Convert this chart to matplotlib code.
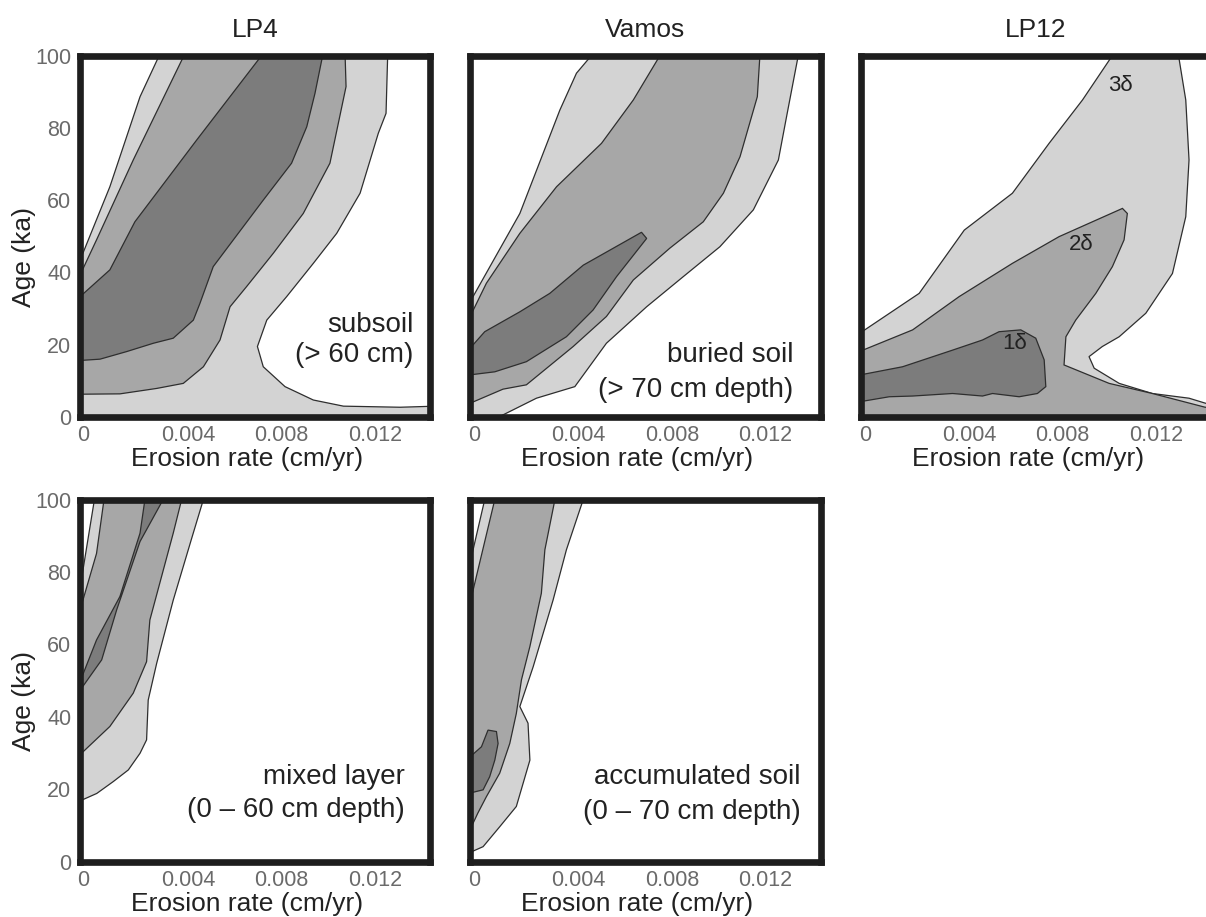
import matplotlib
matplotlib.use("Agg")
import matplotlib.pyplot as plt
from matplotlib.transforms import ScaledTranslation
import numpy as np

plt.rcParams['font.family'] = ['Liberation Sans', 'DejaVu Sans']

# confidence envelopes, (erosion rate cm/yr, age ka); 3 = outer (3 sigma), 1 = inner
lp4_3 = [(-0.0007, 42.0), (0.00066, 63.7), (0.00195, 88.6), (0.00277, 100), (0.01254, 100),
         (0.01247, 84.0), (0.01214, 78.5), (0.01136, 61.9), (0.01036, 50.8), (0.00936, 42.5),
         (0.00822, 33.3), (0.00737, 26.8), (0.00697, 19.5), (0.00722, 13.9), (0.00815, 8.4),
         (0.00936, 4.7), (0.01065, 3.0), (0.01307, 2.7), (0.0146, 3.0), (0.0146, -1), (-0.0007, -1)]
lp4_2 = [(-0.0007, 38.1), (0.00009, 49.0), (0.00166, 71.1), (0.00383, 100), (0.01072, 100),
         (0.01076, 91.4), (0.01007, 70.2), (0.00893, 56.3), (0.00765, 45.3), (0.00651, 36.1),
         (0.0058, 30.5), (0.00537, 21.3), (0.00466, 13.9), (0.0038, 9.3), (0.00266, 7.9),
         (0.00109, 6.4), (-0.0007, 6.3)]
lp4_1 = [(-0.0007, 32.8), (0.00066, 40.7), (0.00173, 54.0), (0.00437, 76.6), (0.00715, 100),
         (0.00976, 100), (0.00943, 89.5), (0.00908, 80.3), (0.00843, 70.2), (0.00722, 60.0),
         (0.00594, 49.0), (0.00508, 41.6), (0.00451, 31.4), (0.00423, 26.8), (0.00337, 21.8),
         (0.00252, 20.4), (0.00138, 18.1), (0.00024, 16.0), (-0.0007, 15.6)]

vamos_3 = [(-0.0007, 31.0), (0.0015, 56.3), (0.00321, 84.9), (0.00392, 95.1), (0.00456, 100),
           (0.0134, 100), (0.0129, 83.1), (0.01255, 71.1), (0.01148, 57.3), (0.01005, 47.1),
           (0.00848, 38.8), (0.00692, 30.5), (0.0052, 20.4), (0.00385, 8.4), (0.00221, 5.2),
           (0.00029, -1), (-0.0007, -1)]
vamos_2 = [(-0.0007, 26.8), (0.00007, 37.0), (0.0015, 50.8), (0.00307, 63.7), (0.00499, 75.7),
           (0.00635, 87.7), (0.00749, 100), (0.01176, 100), (0.01165, 88.6), (0.01091, 72.0),
           (0.0102, 61.9), (0.00934, 54.0), (0.00791, 46.7), (0.00635, 37.9), (0.0052, 27.8),
           (0.00378, 19.5), (0.00178, 8.9), (0.00078, 7.7), (-0.0007, 3.6)]
vamos_1 = [(-0.0007, 18.5), (0.0, 23.6), (0.0015, 29.1), (0.00278, 34.2), (0.00421, 42.0),
           (0.0067, 51.1), (0.00692, 49.4), (0.00563, 38.8), (0.00463, 29.6), (0.00349, 22.2),
           (0.00178, 15.3), (0.00043, 12.5), (-0.0007, 11.6)]

lp12_3 = [(-0.0007, 23.1), (0.00186, 34.2), (0.00379, 51.7), (0.00585, 61.9), (0.00742, 75.7),
          (0.00885, 87.7), (0.01013, 100), (0.01296, 100), (0.01327, 87.7), (0.01341, 71.1),
          (0.01327, 55.4), (0.0127, 39.7), (0.01156, 28.7), (0.01042, 22.2), (0.0097, 19.5),
          (0.00913, 16.7), (0.00935, 13.5), (0.01042, 9.3), (0.01184, 6.5), (0.01341, 5.2),
          (0.01412, 3.8), (0.0146, 3.4), (0.0146, -1), (-0.0007, -1)]
lp12_2 = [(-0.0007, 18.1), (0.00158, 24.1), (0.00357, 33.3), (0.00585, 42.5), (0.00785, 49.9),
          (0.01056, 57.7), (0.01077, 56.3), (0.01063, 49.0), (0.01013, 41.6), (0.00942, 34.2),
          (0.00856, 26.8), (0.00814, 22.2), (0.00806, 14.4), (0.00999, 9.3), (0.01184, 6.5),
          (0.0141, 2.7), (0.0146, 2.5), (0.0146, -1), (-0.0007, -1)]
lp12_1 = [(-0.0007, 11.6), (0.00115, 13.9), (0.00329, 18.5), (0.00457, 21.3), (0.00528, 23.6),
          (0.00621, 24.1), (0.00685, 21.8), (0.00721, 15.8), (0.00728, 8.4), (0.00692, 6.5),
          (0.00614, 5.6), (0.005, 6.5), (0.00457, 5.8), (0.00329, 6.5), (0.00158, 5.8),
          (0.00058, 5.6), (-0.0007, 4.2)]
lp12_sigma_labels = ["3δ", "2δ", "1δ"]
lp12_sigma_x = [0.01049, 0.00878, 0.00593]
lp12_sigma_y = [91.8, 47.6, 20.4]

mixed_3 = [(-0.0007, 72.2), (0.0, 100), (0.00466, 100), (0.00416, 89.3), (0.00337, 72.2),
           (0.00266, 54.7), (0.0023, 44.6), (0.00223, 33.6), (0.00195, 29.9), (0.00145, 25.3),
           (0.00081, 22.1), (0.0001, 18.8), (-0.0007, 16.5)]
mixed_2 = [(-0.0007, 67.6), (0.00009, 85.1), (0.00041, 100), (0.00373, 100), (0.00337, 90.7),
           (0.00237, 66.7), (0.00223, 55.2), (0.00166, 46.5), (0.00066, 37.3), (-0.0007, 29.0)]
mixed_1 = [(-0.0007, 48.3), (0.00009, 61.2), (0.00109, 73.2), (0.00195, 90.7), (0.00216, 100),
           (0.00294, 100), (0.00195, 88.4), (0.00095, 69.5), (0.00031, 55.7), (-0.0007, 46.5)]

accum_3 = [(-0.0007, 80.5), (0.0, 100), (0.00421, 100), (0.00349, 86.1), (0.00292, 72.2),
           (0.00207, 53.8), (0.0015, 42.8), (0.00185, 38.2), (0.00193, 28.0), (0.00135, 15.2),
           (0.00064, 9.6), (-0.00007, 4.1), (-0.0007, 2.3)]
accum_2 = [(-0.0007, 69.5), (0.00043, 100), (0.003, 100), (0.00257, 86.1), (0.00242, 74.1),
           (0.00193, 59.4), (0.00157, 50.2), (0.00135, 40.9), (0.00107, 32.6), (0.00064, 24.4),
           (0.00007, 17.9), (-0.0003, 13.3), (-0.0007, 7.8)]
accum_1 = [(-0.0007, 28.5), (-0.00014, 31.7), (0.00014, 36.3), (0.0005, 35.9), (0.00057, 32.6),
           (0.00043, 28.0), (0.00021, 23.4), (-0.00007, 19.8), (-0.0007, 18.8)]

x_ticks = [0, 0.004, 0.008, 0.012]
x_tick_labels = ["0", "0.004", "0.008", "0.012"]
y_ticks = [0, 20, 40, 60, 80, 100]

fills = ['#d3d3d3', '#a7a7a7', '#7c7c7c']
edge = '#2e2e2e'
frame = '#1e1e1e'
tick_col = '#6a6a6a'
txt_col = '#222222'

fig = plt.figure(figsize=(12.06, 9.17), dpi=100)
W, H = 1206, 917


def make_ax(left, top, right, bottom):
    return fig.add_axes([left / W, 1 - bottom / H, (right - left) / W, (bottom - top) / H])


panels = [
    dict(box=(79.7, 55.5, 430, 417), polys=[lp4_3, lp4_2, lp4_1], title="LP4", ylab=True,
         lines=[("subsoil", 0.952, 0.2545), ("(> 60 cm)", 0.952, 0.1715)]),
    dict(box=(470, 55.5, 820.5, 417), polys=[vamos_3, vamos_2, vamos_1], title="Vamos", ylab=False,
         lines=[("buried soil", 0.923, 0.1715), ("(> 70 cm depth)", 0.923, 0.075)]),
    dict(box=(861, 55.5, 1211, 417), polys=[lp12_3, lp12_2, lp12_1], title="LP12", ylab=False,
         lines=[]),
    dict(box=(79.7, 499.5, 430, 861.5), polys=[mixed_3, mixed_2, mixed_1], title="", ylab=True,
         lines=[("mixed layer", 0.929, 0.234), ("(0 – 60 cm depth)", 0.929, 0.142)]),
    dict(box=(470, 499.5, 820.5, 861.5), polys=[accum_3, accum_2, accum_1], title="", ylab=False,
         lines=[("accumulated soil", 0.943, 0.234), ("(0 – 70 cm depth)", 0.943, 0.138)]),
]

shift_zero = ScaledTranslation(-11 / 100, 0, fig.dpi_scale_trans)

for i, p in enumerate(panels):
    ax = make_ax(*p['box'])
    for poly, fc in zip(p['polys'], fills):
        pts = np.array(poly)
        ax.fill(pts[:, 0], pts[:, 1], facecolor=fc, edgecolor=edge, linewidth=0.9, zorder=2)
    ax.set_xlim(-0.00063, 0.01435)
    ax.set_ylim(0, 100)
    for s in ax.spines.values():
        s.set_linewidth(4.8)
        s.set_color(frame)
        s.set_zorder(5)
    ax.set_xticks(x_ticks)
    ax.set_xticklabels(x_tick_labels)
    ax.tick_params(length=0, labelsize=15.5, labelcolor=tick_col, pad=6)
    ax.get_xticklabels()[0].set_transform(ax.get_xticklabels()[0].get_transform() + shift_zero)
    if p['ylab']:
        ax.set_yticks(y_ticks)
        ax.set_ylabel("Age (ka)", fontsize=19, color=txt_col)
        ax.yaxis.set_label_coords(-0.125, 0.443)
    else:
        ax.set_yticks([])
    ax.set_xlabel("Erosion rate (cm/yr)", fontsize=19, color=txt_col)
    ax.xaxis.set_label_coords(0.478, -0.083)
    if p['title']:
        ax.set_title(p['title'], fontsize=19, color=txt_col, pad=13)
    for text, tx, ty in p['lines']:
        ax.text(tx, ty, text, transform=ax.transAxes, ha='right', va='center',
                fontsize=20, color=txt_col, zorder=6)
    if p['title'] == "LP12":
        for lab, lx, ly in zip(lp12_sigma_labels, lp12_sigma_x, lp12_sigma_y):
            ax.text(lx, ly, lab, ha='center', va='center', fontsize=16, color=txt_col, zorder=6)

fig.savefig("out.png", dpi=100)
